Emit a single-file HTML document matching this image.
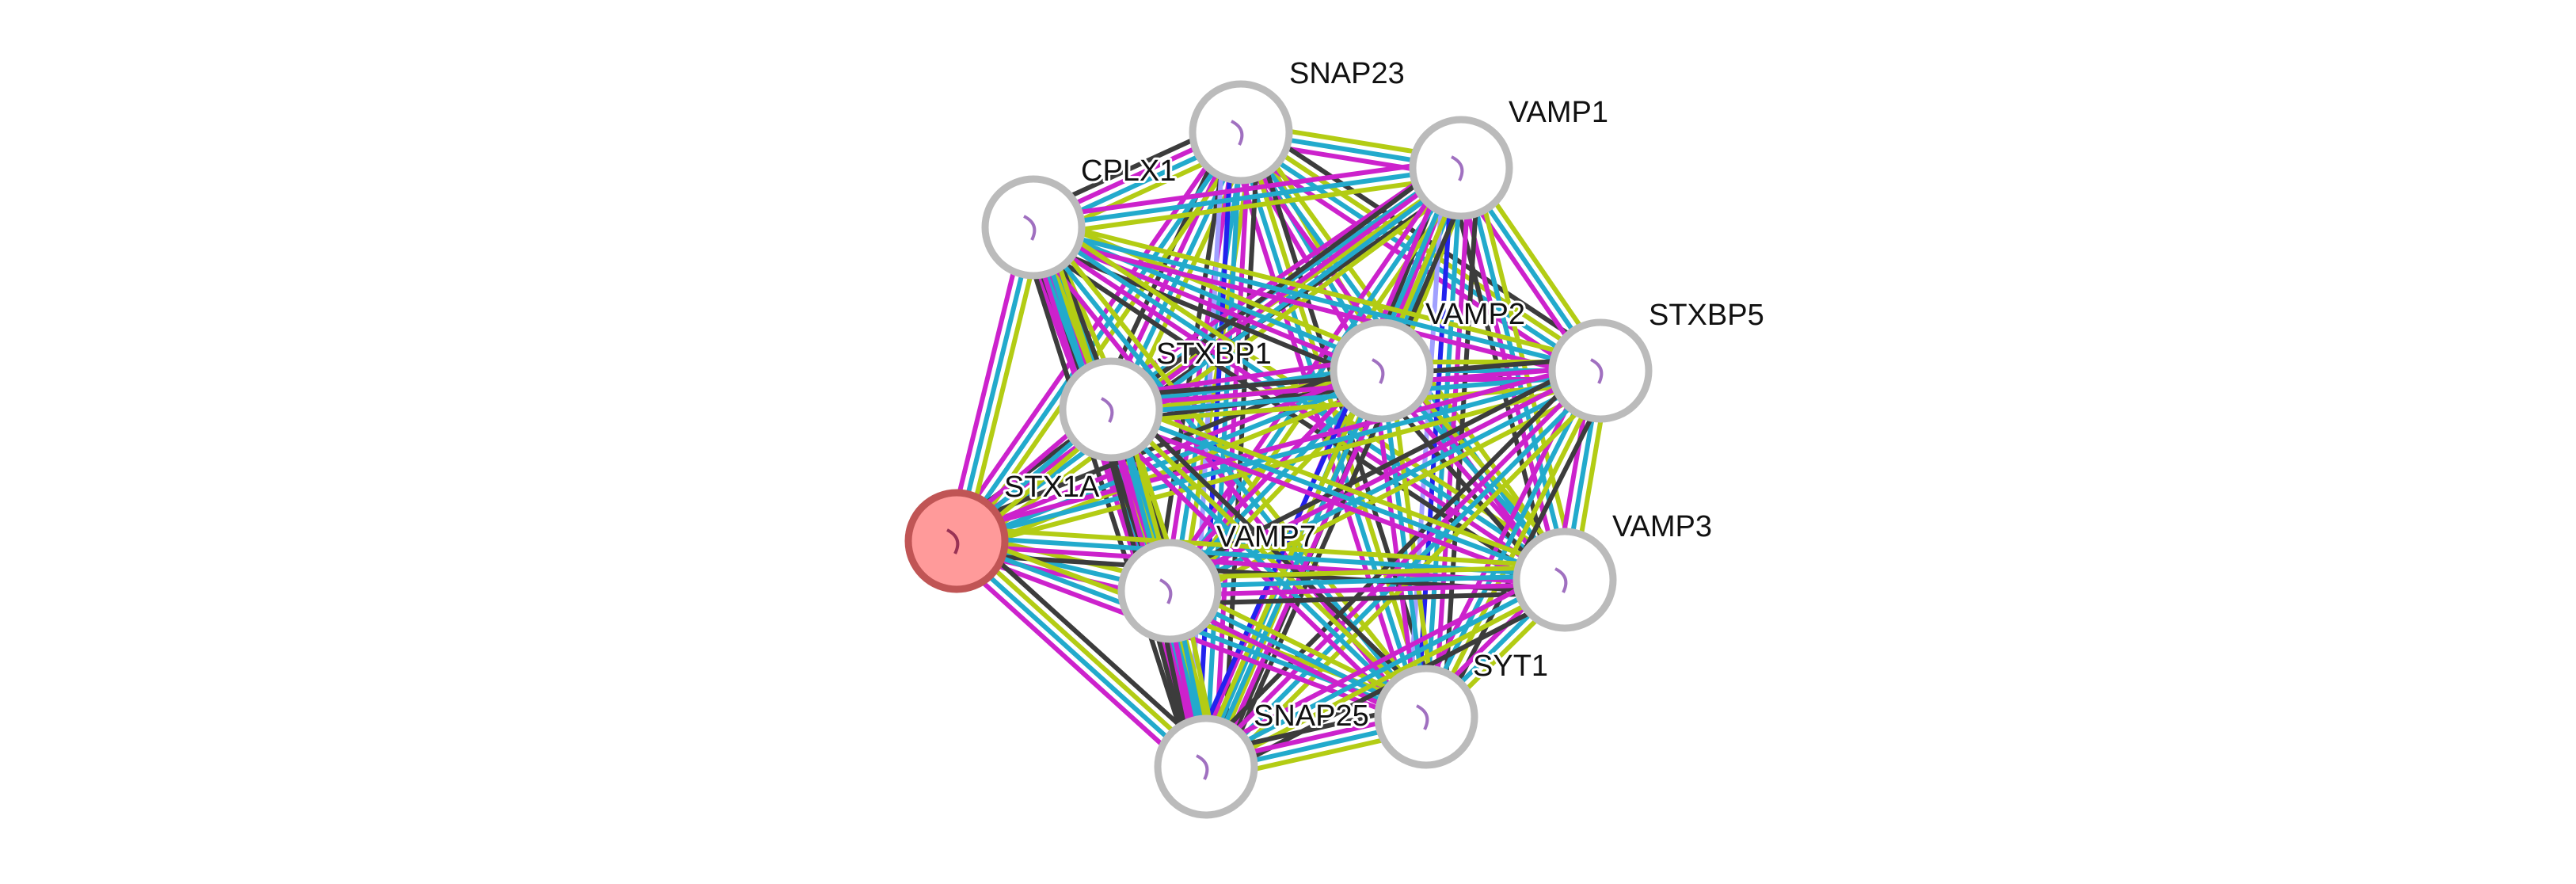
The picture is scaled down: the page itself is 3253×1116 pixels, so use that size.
<!DOCTYPE html>
<html><head><meta charset="utf-8"><style>
html,body{margin:0;padding:0;background:#fff;width:3253px;height:1116px;overflow:hidden}
svg{display:block}
text{font-family:"Liberation Sans",sans-serif;font-size:38px;fill:#111;stroke:#fff;stroke-width:6px;paint-order:stroke;stroke-linejoin:round}
</style></head><body>
<svg id="s" width="3253" height="1116" viewBox="0 0 3253 1116" xmlns="http://www.w3.org/2000/svg">
<g id="edges"></g><g id="nodes"></g>
<text x="1628" y="105">SNAP23</text>
<text x="1905" y="154">VAMP1</text>
<text x="1365" y="228">CPLX1</text>
<text x="1800" y="409">VAMP2</text>
<text x="2082" y="410">STXBP5</text>
<text x="1460" y="459">STXBP1</text>
<text x="1268" y="627">STX1A</text>
<text x="1536" y="690">VAMP7</text>
<text x="2036" y="677">VAMP3</text>
<text x="1860" y="853">SYT1</text>
<text x="1583" y="916">SNAP25</text>
</svg>
<script>
var N={SNAP23:[1567,167],VAMP1:[1845,212],CPLX1:[1305,287],VAMP2:[1745,468],STXBP5:[2021,468],STXBP1:[1403,517],STX1A:[1208,683],VAMP7:[1477,746],VAMP3:[1976,732],SYT1:[1801,905],SNAP25:[1523,968]};
var C={g:"#b3cc14",c:"#22aacc",m:"#cc22cc",k:"#3c3c3c",b:"#2222ee",l:"#a0a0ff"};
var names=Object.keys(N),E=document.getElementById("edges"),ns="http://www.w3.org/2000/svg";
var special={"SNAP23|SNAP25":"kmcbl","VAMP1|SYT1":"kmcbl","VAMP2|SNAP25":"kmcgb","STX1A|VAMP1":"kmc"};
var i=0;
for(var a=0;a<names.length;a++)for(var b=a+1;b<names.length;b++){
 var A=N[names[a]],B=N[names[b]];i++;
 var key=names[a]+"|"+names[b];
 var set=special[key]||(["gcmk","gcm","gcmk","gcm","kgcm"][i%5]);
 var dx=B[0]-A[0],dy=B[1]-A[1],L=Math.hypot(dx,dy),px=-dy/L,py=dx/L,n=set.length;
 for(var j=0;j<n;j++){
  var o=(j-(n-1)/2)*11;
  var ln=document.createElementNS(ns,"line");
  ln.setAttribute("x1",A[0]+px*o);ln.setAttribute("y1",A[1]+py*o);
  ln.setAttribute("x2",B[0]+px*o);ln.setAttribute("y2",B[1]+py*o);
  ln.setAttribute("stroke",C[set[j]]);ln.setAttribute("stroke-width","6");
  E.appendChild(ln);
 }
}
var G=document.getElementById("nodes");
names.forEach(function(k){
 var p=N[k],c=document.createElementNS(ns,"circle");
 c.setAttribute("cx",p[0]);c.setAttribute("cy",p[1]);c.setAttribute("r",61);
 if(k=="STX1A"){c.setAttribute("fill","#ff9a9a");c.setAttribute("stroke","#c05555");}
 else{c.setAttribute("fill","#fff");c.setAttribute("stroke","#bbbbbb");}
 c.setAttribute("stroke-width","9");G.appendChild(c);
 var d=document.createElementNS(ns,"path");
 d.setAttribute("d","M"+(p[0]-12)+" "+(p[1]-14)+" q20 10 10 30");
 d.setAttribute("stroke",k=="STX1A"?"#993355":"#a070c0");d.setAttribute("stroke-width","4");d.setAttribute("fill","none");
 G.appendChild(d);
});
</script>
</body></html>
